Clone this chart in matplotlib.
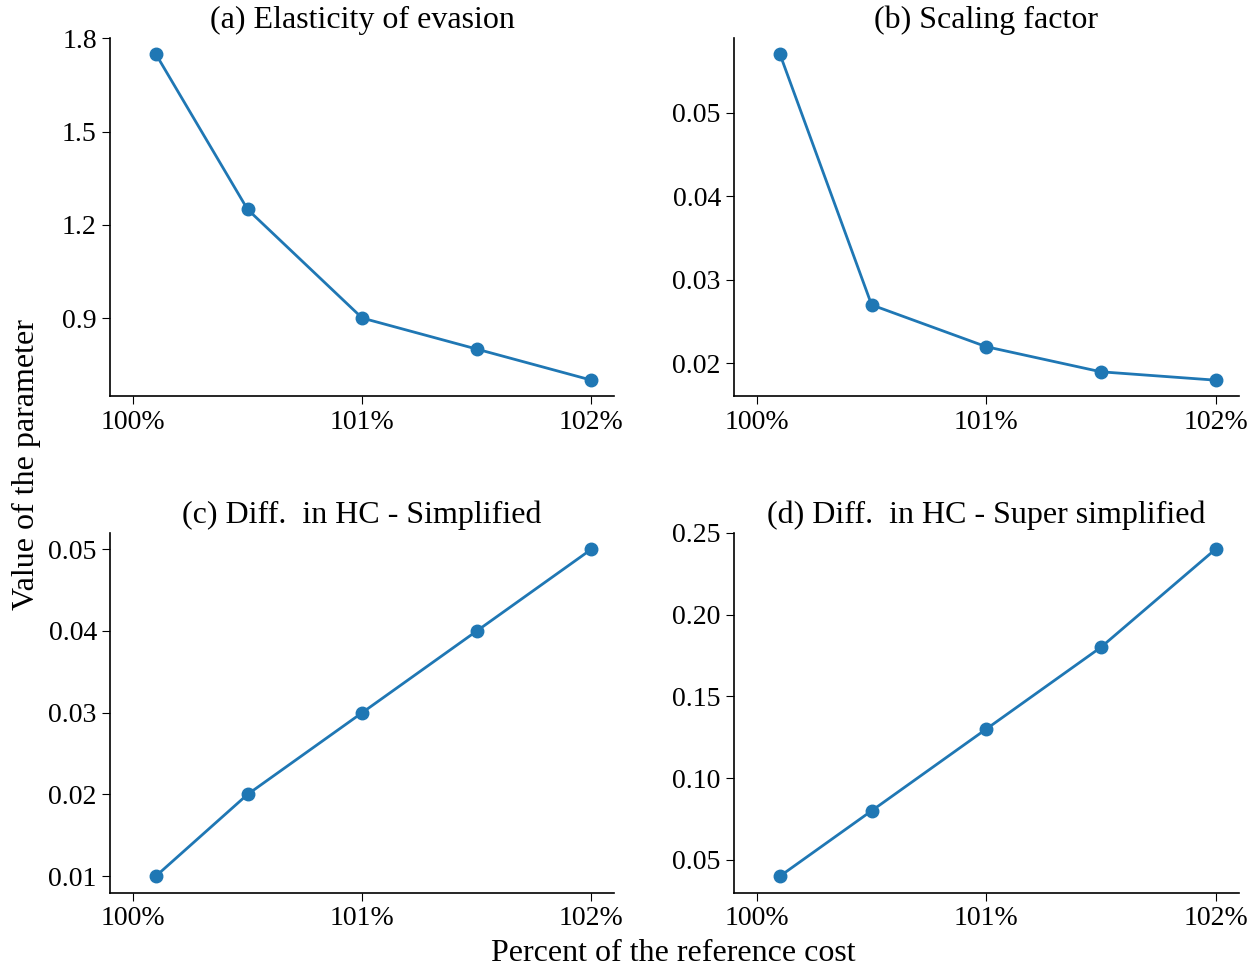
import numpy as np
import matplotlib
matplotlib.use('Agg')
import matplotlib.pyplot as plt
import matplotlib.ticker as ticker

plt.rcParams['font.family'] = ['Liberation Serif', 'DejaVu Serif']
plt.rcParams['font.size'] = 20
plt.rcParams['axes.linewidth'] = 1.2
plt.rcParams['xtick.major.size'] = 6
plt.rcParams['ytick.major.size'] = 6

# percent of the reference cost
cost = [100.1, 100.5, 101.0, 101.5, 102.0]

# parameter values per panel
elasticity = [1.75, 1.25, 0.90, 0.80, 0.70]
scaling = [0.057, 0.027, 0.022, 0.019, 0.018]
diff_hc_simpl = [0.01, 0.02, 0.03, 0.04, 0.05]
diff_hc_super = [0.04, 0.08, 0.13, 0.18, 0.24]

titles = ['(a) Elasticity of evasion', '(b) Scaling factor',
          '(c) Diff.  in HC - Simplified', '(d) Diff.  in HC - Super simplified']
series = [elasticity, scaling, diff_hc_simpl, diff_hc_super]
yfmt = ['%.1f', '%.2f', '%.2f', '%.2f']
ystep = [0.3, 0.01, 0.01, 0.05]

fig = plt.figure(figsize=(12.58, 9.67), dpi=100)
boxes = [[0.0874, 0.590, 0.401, 0.371],
         [0.5835, 0.590, 0.401, 0.371],
         [0.0874, 0.077, 0.401, 0.372],
         [0.5835, 0.077, 0.401, 0.372]]

for box, title, vals, fmt, step in zip(boxes, titles, series, yfmt, ystep):
    ax = fig.add_axes(box)
    ax.plot(cost, vals, '-o', color='#1f77b4', lw=2, ms=9)
    ax.set_xlim(99.9, 102.1)
    ax.set_xticks([100, 101, 102])
    ax.set_xticklabels(['100%', '101%', '102%'])
    ax.yaxis.set_major_locator(ticker.MultipleLocator(step))
    ax.yaxis.set_major_formatter(ticker.FormatStrFormatter(fmt))
    ax.spines['top'].set_visible(False)
    ax.spines['right'].set_visible(False)
    ax.set_title(title, fontsize=23, pad=7)

fig.text(0.535, 0.014, 'Percent of the reference cost', ha='center', va='center', fontsize=23)
fig.text(0.021, 0.52, 'Value of the parameter', ha='center', va='center',
         rotation=90, fontsize=23)

fig.savefig('out.png', dpi=100)
